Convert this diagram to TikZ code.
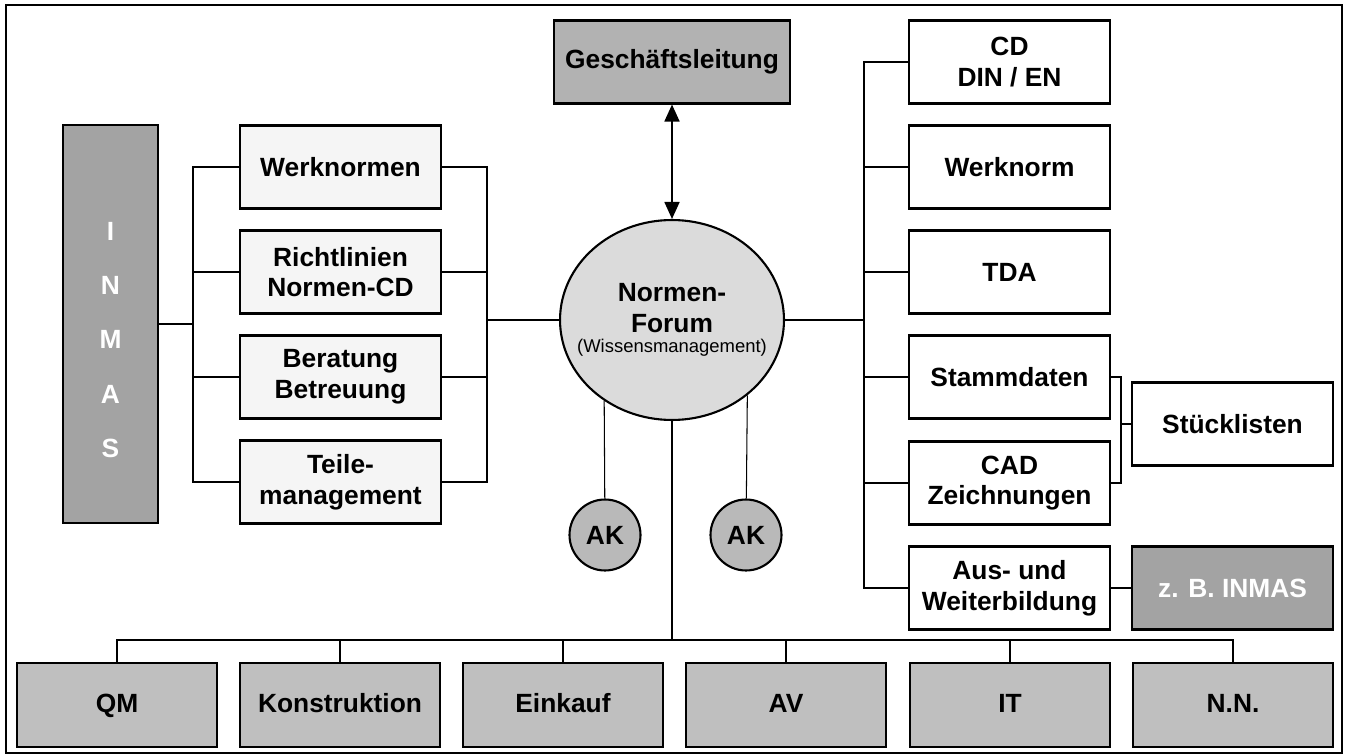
\documentclass[tikz,border=0pt]{standalone}
\usepackage{fontspec}
\setmainfont{Liberation Sans}
\usetikzlibrary{arrows.meta,shapes.geometric}

\begin{document}
\begin{tikzpicture}[x=0.02cm, y=-0.02cm, font=\fontsize{15}{17.5}\selectfont\bfseries,
  box/.style={draw, line width=1.2pt, minimum width=4.02cm, minimum height=1.66cm, inner sep=0pt, align=center},
  lightbox/.style={box, fill=gray!8},
  plainbox/.style={box, fill=white},
  deptbox/.style={box, fill=gray!50, minimum width=4cm, minimum height=1.68cm, text height=11pt, text depth=3pt},
  darkbox/.style={box, fill=gray!72, text=white},
  akcircle/.style={circle, draw, line width=1.2pt, fill=gray!55, minimum size=1.42cm, inner sep=0pt},
  link/.style={line width=0.6pt}]
\useasboundingbox (0,0) rectangle (1345,756);
\draw[line width=0.8pt] (6,5) rectangle (1342,753);

% Leitung und Forum
\node[box, fill=gray!60, minimum width=4.72cm] (gl) at (672,62) {Geschäftsleitung};
\node[ellipse, draw, line width=1.2pt, fill=gray!28, minimum width=4.48cm, minimum height=4cm, inner sep=0pt, align=center] (forum) at (672,320) {Normen-\\Forum\\[-6pt]\makebox[0pt]{\fontsize{10.5}{12}\selectfont\mdseries(Wissensmanagement)}};
\draw[line width=1pt, {Triangle[length=3.4mm,width=3mm]}-{Triangle[length=3.4mm,width=3mm]}] (gl) -- (forum);

% INMAS links
\node[darkbox, minimum width=1.9cm, minimum height=7.96cm] (inmas) at (110.5,324) {};
\node[text=white, align=center, font=\fontsize{15}{31}\selectfont\bfseries] (inmastxt) at (110.5,340) {I\\N\\M\\A\\S};
\foreach \n/\y/\lbl in {wn/167/Werknormen, rl/272/{Richtlinien\\Normen-CD}, bb/377/{Beratung\\Betreuung}, tm/482/{Teile-\\management}}
  \node[lightbox] (\n) at (340.5,\y) {\lbl};
\coordinate (lbus) at (193,324);
\coordinate (mbus) at (487,320);
\draw[link] (inmas.east) -- (lbus);
\draw[link] (wn.west) -| (lbus) |- (tm.west);
\foreach \n in {rl,bb} \draw[link] (\n.west) -- (\n.west -| lbus);
\draw[link] (wn.east) -| (mbus) |- (tm.east);
\foreach \n in {rl,bb} \draw[link] (\n.east) -- (\n.east -| mbus);
\draw[link] (mbus) -- (forum.west);

% Daten rechts
\foreach \n/\y/\lbl in {cd/62/{CD\\DIN / EN}, wm/167/Werknorm, tda/272/TDA, sd/377/Stammdaten, cad/483/{CAD\\Zeichnungen}, aw/588/{Aus- und\\Weiterbildung}}
  \node[plainbox] (\n) at (1009.5,\y) {\lbl};
\coordinate (rbus) at (864,320);
\draw[link] (forum.east) -- (rbus);
\draw[link] (cd.west) -| (rbus) |- (aw.west);
\foreach \n in {wm,tda,sd,cad} \draw[link] (\n.west) -- (\n.west -| rbus);
\node[plainbox] (sl) at (1232.5,424) {Stücklisten};
\node[darkbox] (zb) at (1232.5,588) {z. B. INMAS};
\coordinate (slbus) at (1121,424);
\draw[link] (sd.east) -| (slbus) |- (cad.east);
\draw[link] (slbus) -- (sl.west);
\draw[link] (aw.east) -- (zb.west);

% Arbeitskreise
\node[akcircle] (ak1) at (605,535) {AK};
\node[akcircle] (ak2) at (746,535) {AK};
\draw[link] (ak1) -- (forum.230);
\draw[link] (ak2) -- (forum.-45.4);

% Abteilungen
\coordinate (bbus) at (672,640);
\draw[link] (forum.south) -- (bbus);
\foreach \n/\x/\lbl in {qm/117/QM, ko/340/Konstruktion, ek/563/Einkauf, av/786/AV, it/1010/IT, nn/1233/N.N.}
  \node[deptbox] (\n) at (\x,705) {\lbl};
\draw[link] (qm.north) |- (bbus) -| (nn.north);
\foreach \n in {ko,ek,av,it} \draw[link] (\n.north) -- (\n.north |- bbus);
\end{tikzpicture}
\end{document}
